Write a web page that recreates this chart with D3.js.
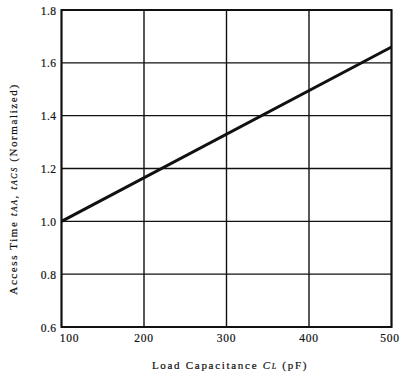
<!DOCTYPE html>
<html>
<head>
<meta charset="utf-8">
<script src="https://cdn.jsdelivr.net/npm/d3@7/dist/d3.min.js"></script>
<style>
  html, body { margin: 0; padding: 0; background: #fff; }
  svg { display: block; }
  text { font-family: "Liberation Serif", "DejaVu Serif", serif; fill: #111; stroke: #111; stroke-width: 0.2; }
</style>
</head>
<body>
<svg id="chart" width="402" height="376"></svg>
<script>
// Load capacitance (pF) and normalized access time
const loadCap = [100, 500];
const accessTime = [1.0, 1.66];
const xTicks = [100, 200, 300, 400, 500];
const yTicks = [0.6, 0.8, 1.0, 1.2, 1.4, 1.6, 1.8];

const svg = d3.select("#chart");
const m = { left: 61.5, right: 391.5, top: 10, bottom: 327 };

const x = d3.scaleLinear().domain([100, 500]).range([m.left, m.right]);
const y = d3.scaleLinear().domain([0.6, 1.8]).range([m.bottom, m.top]);

// Grid lines
svg.append("g")
  .selectAll("line")
  .data(xTicks)
  .join("line")
  .attr("x1", d => x(d)).attr("x2", d => x(d))
  .attr("y1", m.top).attr("y2", m.bottom)
  .attr("stroke", "#111").attr("stroke-width", 1.4);

svg.append("g")
  .selectAll("line")
  .data(yTicks)
  .join("line")
  .attr("x1", m.left).attr("x2", m.right)
  .attr("y1", d => y(d)).attr("y2", d => y(d))
  .attr("stroke", "#111").attr("stroke-width", 1.4);

// Frame
svg.append("rect")
  .attr("x", m.left).attr("y", m.top)
  .attr("width", m.right - m.left).attr("height", m.bottom - m.top)
  .attr("fill", "none").attr("stroke", "#111").attr("stroke-width", 2);

// Y tick labels
svg.append("g")
  .selectAll("text")
  .data(yTicks)
  .join("text")
  .attr("x", m.left - 5)
  .attr("y", d => y(d) + 0.5)
  .attr("dy", "0.35em")
  .attr("text-anchor", "end")
  .attr("font-size", 11.5)
  .attr("letter-spacing", 0.5)
  .text(d => d3.format(".1f")(d));

// X tick labels
svg.append("g")
  .selectAll("text")
  .data(xTicks)
  .join("text")
  .attr("x", (d, i) => x(d) + (i === 0 ? 8 : (i === xTicks.length - 1 ? -1.5 : 0)))
  .attr("y", 342)
  .attr("text-anchor", "middle")
  .attr("font-size", 11.5)
  .attr("letter-spacing", 0.8)
  .text(d => d);

// Data line
const line = d3.line().x(d => x(d[0])).y(d => y(d[1]));
svg.append("path")
  .datum(loadCap.map((c, i) => [c, accessTime[i]]))
  .attr("d", line)
  .attr("fill", "none")
  .attr("stroke", "#111")
  .attr("stroke-width", 3);

// X axis title
const xt = svg.append("text")
  .attr("x", 230).attr("y", 369)
  .attr("text-anchor", "middle")
  .attr("font-size", 11)
  .attr("letter-spacing", 1.7);
xt.append("tspan").text("Load Capacitance ");
xt.append("tspan").attr("font-style", "italic").text("C");
xt.append("tspan").attr("font-style", "italic").attr("font-size", 8).text("L");
xt.append("tspan").text(" (pF)");

// Y axis title
const yt = svg.append("text")
  .attr("transform", "translate(17,189) rotate(-90)")
  .attr("text-anchor", "middle")
  .attr("font-size", 11)
  .attr("letter-spacing", 1.6);
yt.append("tspan").text("Access Time ");
yt.append("tspan").attr("font-style", "italic").text("t");
yt.append("tspan").attr("font-style", "italic").attr("font-size", 8).text("AA");
yt.append("tspan").attr("font-style", "italic").text(", t");
yt.append("tspan").attr("font-style", "italic").attr("font-size", 8).text("ACS");
yt.append("tspan").text(" (Normalized)");
</script>
</body>
</html>
